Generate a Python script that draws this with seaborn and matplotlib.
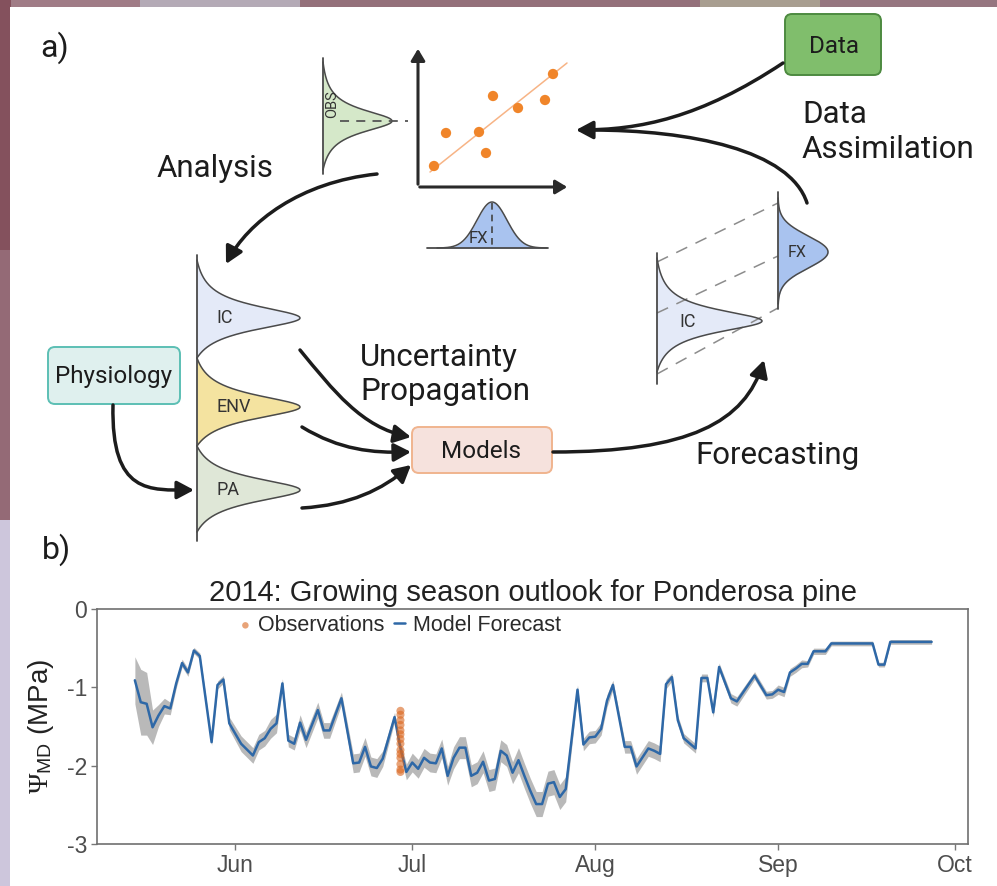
import numpy as np
import pandas as pd
import matplotlib
matplotlib.use("Agg")
import matplotlib.pyplot as plt
import matplotlib.dates as mdates
import seaborn as sns
from matplotlib.patches import FancyBboxPatch, FancyArrowPatch, Rectangle
from matplotlib.path import Path

sns.set_theme(style="white")
plt.rcParams['font.family'] = ['Liberation Sans', 'DejaVu Sans']
plt.rcParams['axes.unicode_minus'] = False
plt.rcParams['mathtext.fontset'] = 'custom'
plt.rcParams['mathtext.rm'] = 'Liberation Serif'
plt.rcParams['mathtext.it'] = 'Liberation Serif:italic'
plt.rcParams['mathtext.sf'] = 'Liberation Sans'

# ---- panel b data ----
season_start = "2014-05-15"
# days after season start where the forecast line has a vertex
forecast_day = [0, 1, 2, 3, 4, 5, 6, 7, 8, 9, 10, 11,
                13, 14, 15, 16, 18, 20, 21, 22, 23, 24,
                25, 26, 27, 28, 29, 31, 32, 33, 35, 37,
                38, 39, 40, 41, 42, 44, 45, 46, 47, 48,
                49, 50, 51, 52, 53, 54, 55, 56, 57, 58,
                59, 60, 61, 62, 63, 64, 65, 66, 67, 68,
                69, 70, 71, 72, 73, 75, 76, 77, 78, 79,
                80, 81, 83, 84, 85, 87, 88, 89, 90, 91,
                92, 93, 95, 96, 97, 98, 99, 101, 102, 105,
                107, 108, 109, 110, 111, 112, 113, 114, 115, 117,
                118, 125, 126, 127, 128, 135]
forecast_psi = [-0.91, -1.19, -1.21, -1.51, -1.36, -1.24, -1.27, -0.95, -0.69, -0.81, -0.53, -0.60,
                -1.70, -0.97, -0.90, -1.46, -1.72, -1.87, -1.70, -1.65, -1.53, -1.46,
                -0.95, -1.68, -1.72, -1.45, -1.67, -1.29, -1.55, -1.55, -1.14, -1.97,
                -1.96, -1.76, -2.01, -2.03, -1.91, -1.38, -1.78, -2.08, -1.96, -2.04,
                -1.90, -1.96, -1.97, -1.78, -2.13, -1.90, -1.77, -1.77, -2.13, -2.09,
                -1.95, -2.19, -2.17, -1.81, -1.87, -2.09, -1.93, -2.13, -2.32, -2.49,
                -2.49, -2.23, -2.21, -2.40, -2.30, -1.03, -1.73, -1.64, -1.63, -1.53,
                -1.17, -0.97, -1.76, -1.76, -2.01, -1.78, -1.81, -1.85, -0.96, -0.87,
                -1.42, -1.65, -1.78, -0.88, -0.88, -1.32, -0.74, -1.14, -1.18, -0.85,
                -1.10, -1.09, -1.03, -1.06, -0.81, -0.76, -0.70, -0.70, -0.54, -0.54,
                -0.44, -0.44, -0.71, -0.71, -0.42, -0.42]
# half width of the grey uncertainty band
forecast_spread = [0.30, 0.42, 0.40, 0.22, 0.14, 0.10, 0.08, 0.06, 0.05, 0.05, 0.04, 0.04,
                   0.04, 0.05, 0.05, 0.08, 0.10, 0.10, 0.10, 0.10, 0.12, 0.12,
                   0.06, 0.08, 0.08, 0.10, 0.10, 0.10, 0.10, 0.10, 0.08, 0.12,
                   0.12, 0.12, 0.12, 0.12, 0.10, 0.06, 0.08, 0.10, 0.12, 0.12,
                   0.12, 0.12, 0.12, 0.12, 0.12, 0.14, 0.14, 0.14, 0.14, 0.14,
                   0.14, 0.14, 0.14, 0.14, 0.14, 0.14, 0.16, 0.16, 0.16, 0.16,
                   0.16, 0.16, 0.16, 0.16, 0.16, 0.06, 0.08, 0.08, 0.08, 0.08,
                   0.08, 0.06, 0.08, 0.08, 0.10, 0.10, 0.10, 0.10, 0.06, 0.05,
                   0.06, 0.06, 0.06, 0.05, 0.05, 0.06, 0.05, 0.06, 0.06, 0.05,
                   0.05, 0.05, 0.06, 0.06, 0.05, 0.05, 0.05, 0.04, 0.04, 0.04,
                   0.03, 0.03, 0.03, 0.03, 0.03, 0.03]
obs_date = "2014-06-29"
obs_psi = [-1.30, -1.35, -1.42, -1.48, -1.55, -1.60, -1.66, -1.72,
           -1.80, -1.85, -1.90, -1.98, -2.05, -2.08]
month_ticks = ["2014-06-01", "2014-07-01", "2014-08-01", "2014-09-01", "2014-10-01"]
psi_ticks = [0, -1, -2, -3]

# ---- panel a icon scatter ----
icon_x = [434, 446, 479, 486, 493, 518, 545, 553]
icon_y = [166, 133, 132, 153, 96, 108, 100, 74]

start = pd.Timestamp(season_start)
fc = pd.DataFrame({
    'date': start + pd.to_timedelta(forecast_day, unit='D'),
    'psi': forecast_psi,
    'spread': forecast_spread,
})
obs = pd.DataFrame({'date': [pd.Timestamp(obs_date)] * len(obs_psi), 'psi': obs_psi})

fig = plt.figure(figsize=(9.97, 8.86), dpi=100)
fig.patch.set_facecolor('#86646d')

# canvas in pixel coords for the diagram
ax_d = fig.add_axes([0, 0, 1, 1])
ax_d.set_zorder(0)
ax_d.axis('off')

# blurred photo frame around the figure
for x0, x1, c in [(0, 140, '#a07c86'), (140, 300, '#b4aab6'), (300, 700, '#94707a'),
                  (700, 820, '#a89e90'), (820, 997, '#967680')]:
    ax_d.add_patch(Rectangle((x0, 0), x1 - x0, 8, fc=c, lw=0))
for y0, y1, c in [(0, 250, '#84515d'), (250, 520, '#946a76'), (520, 886, '#cdc6dc')]:
    ax_d.add_patch(Rectangle((0, y0), 11, y1 - y0, fc=c, lw=0))
ax_d.add_patch(Rectangle((10, 7), 987, 879, fc='white', lw=0))

DIAG_FONT = ['Roboto', 'DejaVu Sans']
INK = '#1c1c1c'
EDGE = '#4a4a4a'


def side_bell(x0, yc, y_top, y_bot, amp, gamma, color, gauss=False):
    yy = np.linspace(y_top, y_bot, 300)
    d = (yy - yc) / gamma
    if gauss:
        shape = np.exp(-0.5 * d ** 2)
    else:
        shape = 1 / (1 + d ** 2)
        c_top = 1 / (1 + ((y_top - yc) / gamma) ** 2)
        c_bot = 1 / (1 + ((y_bot - yc) / gamma) ** 2)
        c = np.where(yy < yc, c_top, c_bot)
        shape = (shape - c) / (1 - c)
    xx = x0 + amp * shape
    ax_d.fill_betweenx(yy, x0, xx, color=color, lw=0)
    ax_d.plot(xx, yy, color=EDGE, lw=1.1)


def up_bell(y0, xc, x_l, x_r, amp, sigma, color):
    xx = np.linspace(x_l, x_r, 300)
    yy = y0 - amp * np.exp(-0.5 * ((xx - xc) / sigma) ** 2)
    ax_d.fill_between(xx, y0, yy, color=color, lw=0)
    ax_d.plot(xx, yy, color=EDGE, lw=1.1)


def curved_arrow(pts, head=True, lw=2.5):
    path = Path(pts, [Path.MOVETO, Path.CURVE4, Path.CURVE4, Path.CURVE4])
    style = '-|>,head_length=0.6,head_width=0.32' if head else '-'
    ax_d.add_patch(FancyArrowPatch(path=path, arrowstyle=style, mutation_scale=17,
                                   lw=lw, color=INK, capstyle='round'))


def box(x0, y0, x1, y1, fc, ec, label, tx, ty):
    ax_d.add_patch(FancyBboxPatch((x0, y0), x1 - x0, y1 - y0,
                                  boxstyle="round,pad=0,rounding_size=7",
                                  fc=fc, ec=ec, lw=1.4))
    ax_d.text(tx, ty, label, ha='center', va='baseline', fontsize=17.5,
              family=DIAG_FONT, color=INK)


# boxes
box(785, 14, 881, 75, '#80be6c', '#4d8a40', 'Data', 834, 53)
box(412, 427, 552, 473, '#f6e2dd', '#f0b48e', 'Models', 481, 458)
box(48, 347, 180, 404, '#dff0ee', '#5cbfb4', 'Physiology', 114, 383)

# OBS distribution
ax_d.plot([323, 323], [58, 174], color=EDGE, lw=1.3)
side_bell(323, 121, 62, 170, 69, 14, '#d5e8c9')
ax_d.plot([340, 408], [121, 121], color='#555555', lw=1.3, ls=(0, (5, 4)))
ax_d.text(332, 104, 'OBS', rotation=90, ha='center', va='center', fontsize=10.5,
          family=DIAG_FONT, color='#333333')

# scatter icon
ax_d.add_patch(FancyArrowPatch((418, 187), (418, 46), arrowstyle='-|>,head_length=0.5,head_width=0.3',
                               mutation_scale=14, lw=2.2, color='#2a2a2a'))
ax_d.add_patch(FancyArrowPatch((417, 187), (570, 187), arrowstyle='-|>,head_length=0.5,head_width=0.3',
                               mutation_scale=14, lw=2.2, color='#2a2a2a'))
ax_d.plot([430, 567], [172, 63], color='#f7b486', lw=1.1)
sns.scatterplot(x=icon_x, y=icon_y, ax=ax_d, color='#f0852a', s=55, edgecolor='none',
                legend=False, zorder=4)

# FX distribution under the scatter
up_bell(248, 492, 437, 547, 46, 15, '#a9c3ef')
ax_d.plot([427, 548], [248, 248], color=EDGE, lw=1.3)
ax_d.plot([492, 492], [203, 248], color='#444444', lw=1.2, ls=(0, (4, 3)))
ax_d.text(478, 238, 'FX', ha='center', va='center', fontsize=12, family=DIAG_FONT, color='#333333')

# left distribution column
ax_d.plot([197, 197], [255, 541], color=EDGE, lw=1.3)
side_bell(197, 318, 260, 358, 103, 15, '#e4eaf8')
side_bell(197, 407, 358, 446, 103, 15, '#f4e3a0')
side_bell(197, 490, 446, 532, 103, 15, '#dfe7d7')
for lab, yy in [('IC', 318), ('ENV', 407), ('PA', 490)]:
    ax_d.text(216, yy, lab, ha='left', va='center', fontsize=13, family=DIAG_FONT, color='#333333')

# forecast distributions
for (xa, ya), (xb, yb) in [((657, 262), (778, 203)), ((657, 313), (778, 256)), ((657, 374), (778, 308))]:
    ax_d.plot([xa, xb], [ya, yb], color='#8c8c8c', lw=1.1, ls=(0, (8, 6)))
ax_d.plot([657, 657], [253, 384], color=EDGE, lw=1.3)
side_bell(657, 321, 258, 372, 105, 14, '#e4eaf8')
ax_d.plot([778, 778], [192, 309], color=EDGE, lw=1.3)
side_bell(778, 252, 198, 304, 50, 16, '#a9c3ef', gauss=True)
ax_d.text(688, 322, 'IC', ha='center', va='center', fontsize=13, family=DIAG_FONT, color='#333333')
ax_d.text(797, 252, 'FX', ha='center', va='center', fontsize=11.5, family=DIAG_FONT, color='#333333')

# arrows
curved_arrow([(377, 174), (300, 182), (248, 222), (226, 264)])            # analysis
curved_arrow([(783, 63), (700, 118), (640, 130), (576, 130)])             # data -> scatter
curved_arrow([(807, 203), (790, 150), (690, 130), (590, 130)], head=False)  # forecast -> scatter
curved_arrow([(113, 405), (111, 495), (150, 490), (194, 490)])            # physiology
curved_arrow([(300, 350), (333, 390), (362, 428), (411, 437)])            # IC -> models
curved_arrow([(302, 427), (340, 450), (372, 453), (411, 452)])            # ENV -> models
curved_arrow([(302, 508), (350, 505), (382, 490), (411, 465)])            # PA -> models
curved_arrow([(553, 452), (690, 452), (745, 422), (764, 360)])            # forecasting

# labels
big = dict(fontsize=22.5, family=DIAG_FONT, color=INK, va='baseline')
ax_d.text(157, 177, 'Analysis', ha='left', **big)
ax_d.text(802, 123, 'Data', ha='left', **big)
ax_d.text(802, 158, 'Assimilation', ha='left', **big)
ax_d.text(360, 366, 'Uncertainty', ha='left', **big)
ax_d.text(360, 400, 'Propagation', ha='left', **big)
ax_d.text(695, 464, 'Forecasting', ha='left', **big)
ax_d.text(40, 57, 'a)', ha='left', fontsize=23, family=DIAG_FONT, color=INK, va='baseline')
ax_d.text(42, 559, 'b)', ha='left', fontsize=23, family=DIAG_FONT, color=INK, va='baseline')

ax_d.set_xlim(0, 997)
ax_d.set_ylim(886, 0)

# ---- panel b: time series ----
ax = fig.add_axes([97 / 997, 1 - 844 / 886, (968 - 97) / 997, (844 - 609) / 886])
ax.set_zorder(2)
ax.set_facecolor('white')
ax.fill_between(fc['date'], fc['psi'] - fc['spread'], fc['psi'] + fc['spread'],
                color='#a8a8a8', alpha=0.8, lw=0)
sns.lineplot(data=fc, x='date', y='psi', ax=ax, color='#2e68a7', lw=1.8, label='Model Forecast')
sns.scatterplot(data=obs, x='date', y='psi', ax=ax, color='#d9661f', alpha=0.6, s=34,
                edgecolor='none', label='Observations', zorder=3)

handles, labels = ax.get_legend_handles_labels()
order = [labels.index('Observations'), labels.index('Model Forecast')]
ax.legend([handles[i] for i in order], [labels[i] for i in order],
          loc='upper left', bbox_to_anchor=((240 - 97) / 871, (844 - 615) / 235),
          ncol=2, frameon=False, fontsize=15.5, handlelength=0.5, handletextpad=0.35,
          columnspacing=0.45, borderpad=0, borderaxespad=0, markerscale=0.8,
          labelcolor='#2a2a2a')

ax.set_xlim(pd.Timestamp("2014-05-08 14:00"), pd.Timestamp("2014-10-03 04:00"))
ax.set_xticks(pd.to_datetime(month_ticks))
ax.xaxis.set_major_formatter(mdates.DateFormatter('%b'))
ax.set_ylim(-3, 0)
ax.set_yticks(psi_ticks)
ax.set_yticklabels([str(t) for t in psi_ticks])
ax.set_xlabel('')
ax.set_ylabel(r'$\Psi_{\mathsf{MD}}$ (MPa)', fontsize=20, color='#222222', labelpad=8)
ax.set_title('2014: Growing season outlook for Ponderosa pine', fontsize=21,
             color='#222222', pad=6)
ax.tick_params(axis='both', which='both', bottom=True, left=True, length=4, width=1,
               color='#777777', labelsize=16.5, labelcolor='#4d4d4d', pad=3)
for sp in ax.spines.values():
    sp.set_color('#707070')
    sp.set_linewidth(1.2)

fig.savefig('out.png', dpi=100, facecolor=fig.get_facecolor())
